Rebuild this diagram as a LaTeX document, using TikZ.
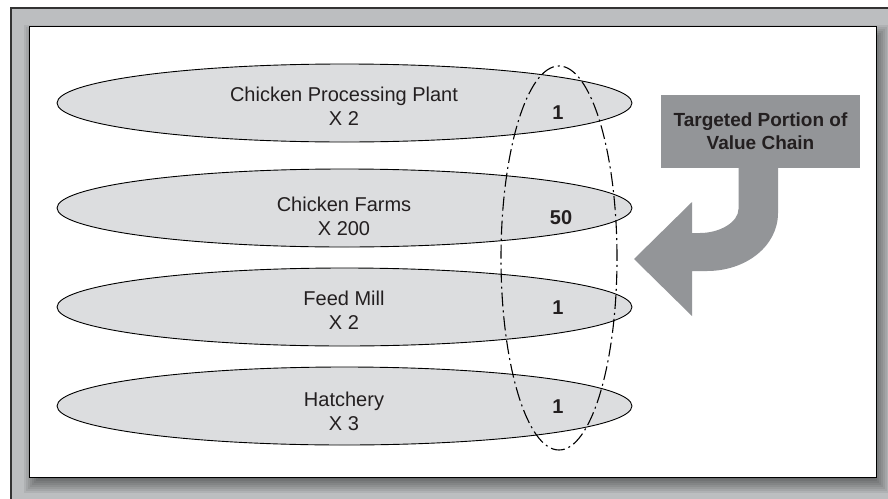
\documentclass[tikz,border=0pt]{standalone}
\usepackage{fontspec}
\setmainfont{Liberation Sans}
\usetikzlibrary{shapes.geometric}
\definecolor{framegray}{HTML}{BCBEC0}
\definecolor{ellgray}{HTML}{DCDDDF}
\definecolor{arrowgray}{HTML}{939598}
\definecolor{txt}{HTML}{231F20}
\begin{document}
\begin{tikzpicture}[x=1pt,y=-1pt,
  tier/.style={ellipse, draw=black, line width=0.9pt, fill=ellgray, minimum width=575pt, minimum height=78pt, inner sep=0pt},
  lbl/.style={font=\fontsize{20}{24}\selectfont, text=txt, align=center, inner sep=0pt},
  num/.style={font=\fontsize{20}{24}\selectfont\bfseries, text=txt, inner sep=0pt},
  target/.style={draw=black, ellipse, line width=1.1pt, dash pattern=on 14pt off 4pt on 2pt off 4pt, minimum width=116pt, minimum height=384pt, inner sep=0pt},
  callout/.style={fill=arrowgray, minimum width=199pt, minimum height=73pt, inner sep=0pt, align=center, font=\fontsize{19}{23}\selectfont\bfseries, text=txt}]
\useasboundingbox (0,0) rectangle (888,498);
% outer frame
\fill[framegray] (11,8) rectangle (892,502);
\draw[line width=2pt, draw=black!80] (11,502) -- (11,8) -- (892,8);
% soft shadow of the panel
\foreach \e in {-9,-7,...,9} {
  \fill[black, opacity=0.065] ({32.5+(\e)},{33.5+(\e)}) rectangle ({880-(\e)},{484-(\e)});
}
% panel
\draw[line width=1.5pt, fill=white] (29.5,26.5) rectangle (876.7,477.3);
% tiers
\node[tier] (e1) at (344.5,103) {};
\node[tier] (e2) at (344.5,208) {};
\node[tier] (e3) at (344.5,307) {};
\node[tier] (e4) at (344.5,406) {};
\node[lbl] (l1) at (344,106) {Chicken Processing Plant\\X 2};
\node[lbl] (l2) at (344,216) {Chicken Farms\\X 200};
\node[lbl] (l3) at (344,310) {Feed Mill\\X 2};
\node[lbl] (l4) at (344,411) {Hatchery\\X 3};
\node[num] (n1) at (558,113) {1};
\node[num] (n2) at (561,218) {50};
\node[num] (n3) at (558,308) {1};
\node[num] (n4) at (558,407) {1};
% targeted portion
\node[target] (tg) at (559,258) {};
% callout box and arrow
\node[callout] (box) at (760.5,131.5) {Targeted Portion of\\Value Chain};
\fill[arrowgray] (738.5,167) -- (738.5,209) .. controls (738.5,222) and (720,233) .. (700,233)
  -- (692,233) -- (692,202) -- (634,259) -- (692,316) -- (692,271) -- (707,271)
  .. controls (746,271) and (778,246) .. (778,213) -- (778,167) -- cycle;
\end{tikzpicture}
\end{document}
